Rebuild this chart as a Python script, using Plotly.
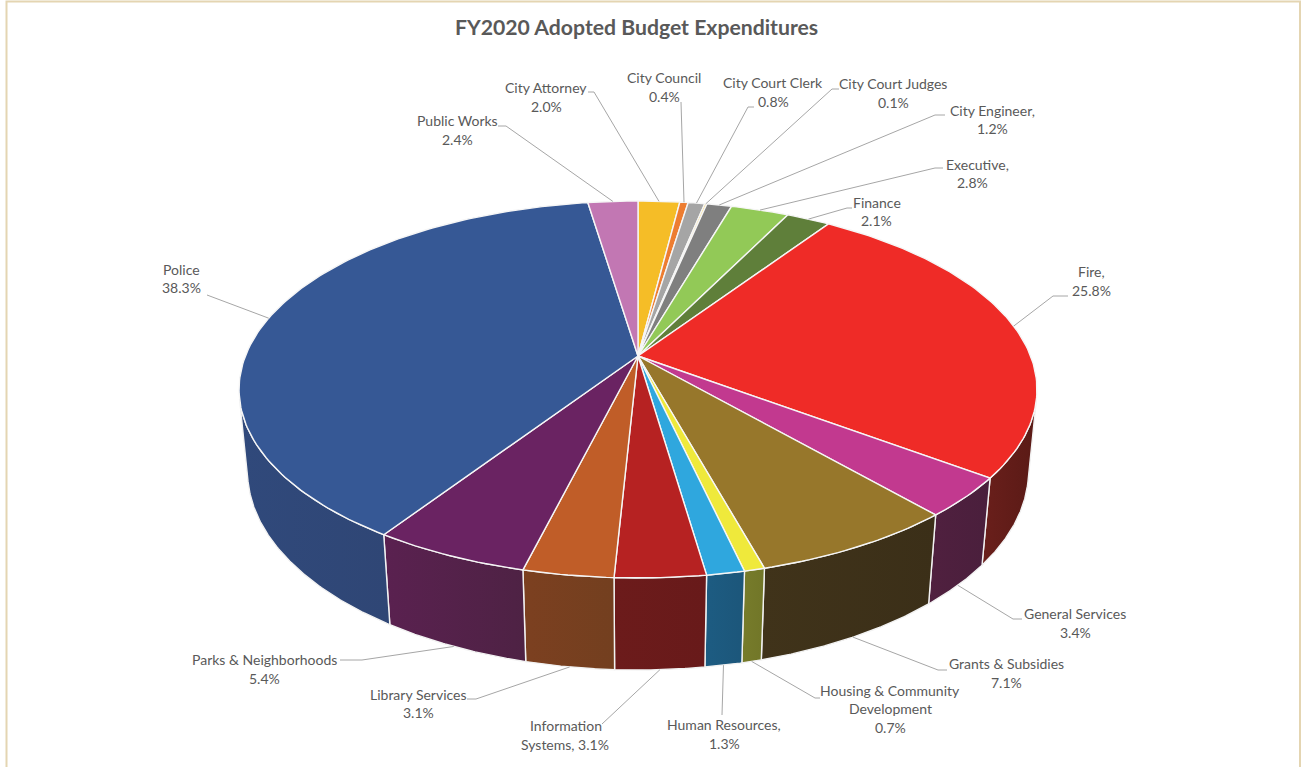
import numpy as np
import plotly.graph_objects as go

# FY2020 adopted budget: share of expenditures by department (percent)
departments = ["City Attorney", "City Council", "City Court Clerk", "City Court Judges",
               "City Engineer", "Executive", "Finance", "Fire", "General Services",
               "Grants & Subsidies", "Housing & Community Development", "Human Resources",
               "Information Systems", "Library Services", "Parks & Neighborhoods",
               "Police", "Public Works"]
shares = [2.0, 0.4, 0.8, 0.1, 1.2, 2.8, 2.1, 25.8, 3.4, 7.1, 0.7, 1.3, 3.1, 3.1, 5.4, 38.3, 2.4]

top_colors = ["#f5bd27", "#ed7d31", "#a5a5a5", "#ffd24d", "#7f7f7f", "#92c957", "#5f7f3a",
              "#ef2b27", "#c2398f", "#97772b", "#efe93b", "#2fa7de", "#b62222", "#c05d28",
              "#6a2362", "#365895", "#c277b3"]
wall_left = ["#7a5f14", "#773e18", "#525252", "#7f6926", "#404040", "#49642b", "#30401d",
             "#6a1f1b", "#50203f", "#40331a", "#777c2b", "#1d5c82", "#6c1b1b", "#7c4020",
             "#5a2150", "#30497b", "#613b59"]
wall_right = ["#7a5f14", "#773e18", "#525252", "#7f6926", "#404040", "#49642b", "#30401d",
              "#5a1a16", "#4a1f3c", "#3b2f18", "#717628", "#1c567a", "#681a1a", "#733f1f",
              "#4e2244", "#2f4675", "#613b59"]

# Text blocks beside the pie: one (text, centre x, centre y) entry per line
label_lines = [
    [("City Attorney", 546, 87), ("2.0%", 546, 106)],
    [("City Council", 664, 77), ("0.4%", 664, 96)],
    [("City Court Clerk", 773, 82), ("0.8%", 773, 101)],
    [("City Court Judges", 893, 83), ("0.1%", 893, 102)],
    [("City Engineer,", 992, 110), ("1.2%", 992, 128)],
    [("Executive,", 977, 164), ("2.8%", 972, 182)],
    [("Finance", 877, 202), ("2.1%", 876, 220)],
    [("Fire,", 1091, 271), ("25.8%", 1091, 290)],
    [("General Services", 1075, 613), ("3.4%", 1075, 632)],
    [("Grants & Subsidies", 1006, 663), ("7.1%", 1006, 682)],
    [("Housing & Community", 890, 690), ("Development", 890, 708), ("0.7%", 890, 727)],
    [("Human Resources,", 724, 724), ("1.3%", 724, 743)],
    [("Information", 566, 725), ("Systems, 3.1%", 565, 744)],
    [("Library Services", 418, 694), ("3.1%", 418, 712)],
    [("Parks & Neighborhoods", 264, 659), ("5.4%", 264, 678)],
    [("Police", 181, 269), ("38.3%", 181, 287)],
    [("Public Works", 457, 120), ("2.4%", 457, 139)],
]

# Leader paths from each text block towards its slice; the slice end is computed
leader_paths = [
    [(588, 92), (594, 92)],
    [(681, 102)],
    [(754, 107), (748, 107)],
    [(839, 89), (832, 89)],
    [(945, 115), (935, 115)],
    [(943, 168), (935, 168)],
    [(852, 208), (847, 208)],
    [(1068, 296), (1053, 296)],
    [(1022, 619), (1013, 619)],
    [(947, 670), (938, 670)],
    [(820, 698), (815, 698)],
    [(722, 715)],
    [(602, 724)],
    [(467, 699), (476, 699)],
    [(340, 660), (362, 660)],
    [(207, 295)],
    [(498, 126), (506, 126)],
]

# Perspective projection of the tilted cylinder onto the page (page pixels)
CX, CY = 638.0, 356.0
FX, FY = 392.6, 182.5
TILT = 0.1777
DROP = 82.3      # vertical offset of the lower rim
SHRINK = 0.021   # perspective loss of the lower rim


def project(theta, radius=1.0, lower=False):
    px = radius * np.sin(theta)
    py = radius * np.cos(theta)
    w = 1 + TILT * py + (SHRINK if lower else 0.0)
    sx = CX + FX * px / w
    sy = CY + (-FY * py + (DROP if lower else 0.0)) / w
    return sx, sy


def arc(start, stop, per_degree=1):
    count = max(3, int(np.degrees(stop - start) * per_degree) + 2)
    return np.linspace(start, stop, count)


def faces_viewer(t):
    """True where the wall at angle t is turned towards the viewer."""
    ux, uy = project(t)
    lx, ly = project(t, lower=True)
    step = 1e-3
    nx, ny = project(t + step)
    return ((lx - ux) * (ny - uy) - (ly - uy) * (nx - ux)) > 0


edges = np.cumsum([0.0] + shares) / sum(shares) * 2 * np.pi
fig = go.Figure()

# Side walls: only the part facing the viewer, closed along the silhouette
for i, name in enumerate(departments):
    t = arc(edges[i], edges[i + 1], per_degree=4)
    t = t[faces_viewer(t)]
    if len(t) < 2:
        continue
    ux, uy = project(t)
    lx, ly = project(t[::-1], lower=True)
    fig.add_trace(go.Scatter(
        x=np.r_[ux, lx, ux[0]], y=np.r_[uy, ly, uy[0]],
        mode="lines", fill="toself",
        fillgradient=dict(type="horizontal",
                          colorscale=[[0, wall_left[i]], [1, wall_right[i]]]),
        line=dict(color="#f2f2f2", width=1.4),
        hoverinfo="skip", showlegend=False))

# Top faces
for i, name in enumerate(departments):
    t = arc(edges[i], edges[i + 1])
    ax, ay = project(t)
    fig.add_trace(go.Scatter(
        x=np.r_[CX, ax, CX], y=np.r_[CY, ay, CY],
        mode="lines", fill="toself", fillcolor=top_colors[i],
        line=dict(color="#f6f6f6", width=1.4),
        name=name, text=f"{name}: {shares[i]}%", hoverinfo="text", showlegend=False))

# Leader lines end on the upper rim at the back and on the lower rim at the front
leader_x, leader_y = [], []
for i, path in enumerate(leader_paths):
    mid = (edges[i] + edges[i + 1]) / 2
    end_x, end_y = project(mid, lower=bool(np.cos(mid) < 0 and abs(np.sin(mid)) < 0.9))
    leader_x += [p[0] for p in path] + [float(end_x), None]
    leader_y += [p[1] for p in path] + [float(end_y), None]
fig.add_trace(go.Scatter(x=leader_x, y=leader_y, mode="lines",
                         line=dict(color="#a6a6a6", width=1),
                         hoverinfo="skip", showlegend=False))

annotations = []
for block in label_lines:
    for text, x, y in block:
        annotations.append(dict(x=x, y=y, text=text, showarrow=False,
                                xanchor="center", yanchor="middle",
                                font=dict(family="Lato", size=14, color="#595959")))
annotations.append(dict(x=636, y=27, text="<b>FY2020 Adopted Budget Expenditures</b>",
                        showarrow=False, xanchor="center", yanchor="middle",
                        font=dict(family="Lato", size=21.2, color="#595959")))

# Tan frame of the chart area; its lower edge runs off the page
frame = dict(type="rect", x0=6.5, x1=1300, y0=1.5, y1=800,
             line=dict(color="#e4d5b2", width=2), layer="below")

fig.update_layout(
    width=1301, height=767,
    margin=dict(l=0, r=0, t=0, b=0),
    paper_bgcolor="white", plot_bgcolor="white",
    xaxis=dict(range=[0, 1301], visible=False, fixedrange=True),
    yaxis=dict(range=[767, 0], visible=False, fixedrange=True),
    annotations=annotations, shapes=[frame], showlegend=False,
)

fig.write_html("out.html", config={"displayModeBar": False})
